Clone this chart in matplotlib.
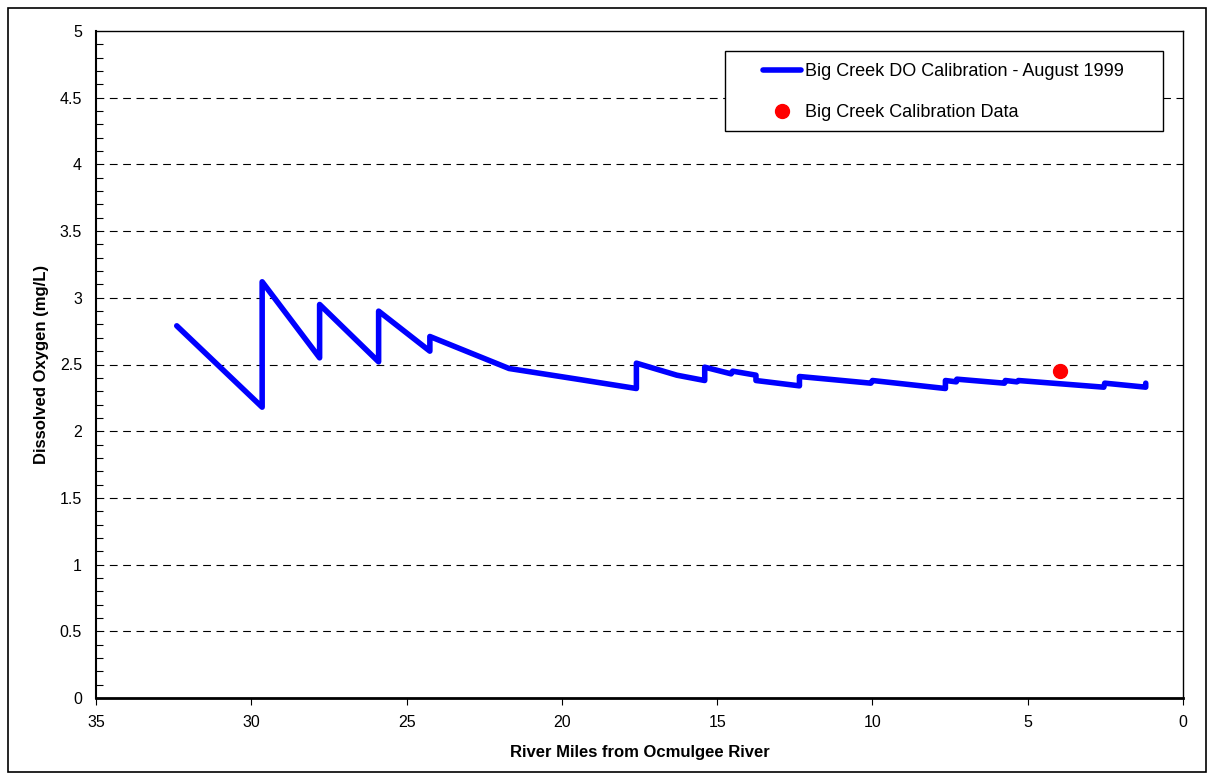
import matplotlib
matplotlib.use("Agg")
import matplotlib.pyplot as plt
from matplotlib.ticker import MultipleLocator
from matplotlib.patches import Rectangle

plt.rcParams['font.family'] = ['Liberation Sans', 'DejaVu Sans']

# Model line (river miles, DO mg/L)
model_miles = [32.4, 29.65, 29.65, 27.8, 27.8, 25.9, 25.9, 24.25, 24.25, 21.7,
               19.5, 17.6, 17.6, 16.3, 15.4, 15.4, 14.55, 14.5, 13.75, 13.75,
               12.35, 12.35, 10.05, 10.0, 7.65, 7.65, 7.3, 7.28, 5.75, 5.72,
               5.35, 5.3, 2.55, 2.52, 1.2, 1.2]
model_do = [2.79, 2.18, 3.12, 2.55, 2.95, 2.52, 2.90, 2.60, 2.71, 2.47,
            2.39, 2.32, 2.51, 2.42, 2.38, 2.48, 2.43, 2.45, 2.42, 2.38,
            2.34, 2.41, 2.36, 2.38, 2.32, 2.38, 2.37, 2.39, 2.36, 2.38,
            2.37, 2.38, 2.33, 2.36, 2.33, 2.36]

# Calibration data
data_miles = [3.95]
data_do = [2.45]

line_label = "Big Creek DO Calibration - August 1999"
data_label = "Big Creek Calibration Data"
xlabel = "River Miles from Ocmulgee River"
ylabel = "Dissolved Oxygen (mg/L)"
ytick_vals = [0, 0.5, 1, 1.5, 2, 2.5, 3, 3.5, 4, 4.5, 5]
ytick_labels = ['0', '0.5', '1', '1.5', '2', '2.5', '3', '3.5', '4', '4.5', '5']

fig = plt.figure(figsize=(12.14, 7.78), dpi=100)
ax = fig.add_axes([96/1214, 80/778, 1087/1214, 667/778])

ax.plot(model_miles, model_do, color='#0000ff', lw=4.0, solid_joinstyle='round',
        solid_capstyle='round', label=line_label, zorder=3)
ax.plot(data_miles, data_do, 'o', color='#ff0000', ms=10, mec='#ff0000',
        label=data_label, zorder=4, linestyle='none')

ax.set_xlim(35, 0)
ax.set_ylim(0, 5)
ax.xaxis.set_major_locator(MultipleLocator(5))
ax.yaxis.set_minor_locator(MultipleLocator(0.1))
ax.set_yticks(ytick_vals)
ax.set_yticklabels(ytick_labels)
ax.tick_params(axis='y', which='major', length=0, pad=10, labelsize=11.5)
ax.tick_params(axis='y', which='minor', direction='in', length=5, width=0.8,
               left=True, right=False)
ax.tick_params(axis='x', which='major', direction='out', length=5, width=0.8,
               labelsize=11.5, pad=7)

for y in ytick_vals[1:-1]:
    ax.axhline(y, color='black', lw=0.8, dashes=(7, 5), zorder=1)

for s in ax.spines.values():
    s.set_linewidth(1.0)
ax.spines['bottom'].set_linewidth(2.0)
ax.spines['left'].set_linewidth(1.5)

lab_font = dict(family=['Liberation Sans Narrow', 'Liberation Sans', 'DejaVu Sans'],
                fontweight='bold', fontsize=12)
ax.set_xlabel(xlabel, labelpad=11, **lab_font)
ax.set_ylabel(ylabel, labelpad=8, **lab_font)

# legend: entries without frame, frame drawn separately
x0 = (763 - 96) / 1087
ytop = (698 - 63) / 667
leg = ax.legend(loc='upper left', bbox_to_anchor=(x0, ytop), frameon=False,
                fontsize=13, borderpad=0, labelspacing=1.33, handlelength=2.1,
                handletextpad=0.2, borderaxespad=0)
fx0, fx1 = (725 - 96) / 1087, (1163 - 96) / 1087
fy0, fy1 = (698 - 131) / 667, (698 - 51) / 667
ax.add_patch(Rectangle((fx0, fy0), fx1 - fx0, fy1 - fy0, transform=ax.transAxes,
                       facecolor='white', edgecolor='black', lw=1.0, zorder=5))
leg.set_zorder(6)

fig.patches.append(Rectangle((8/1214, 6/778), 1198/1214, 764/778, transform=fig.transFigure,
                             fill=False, edgecolor='black', lw=1.2))

fig.savefig('out.png', dpi=100)
